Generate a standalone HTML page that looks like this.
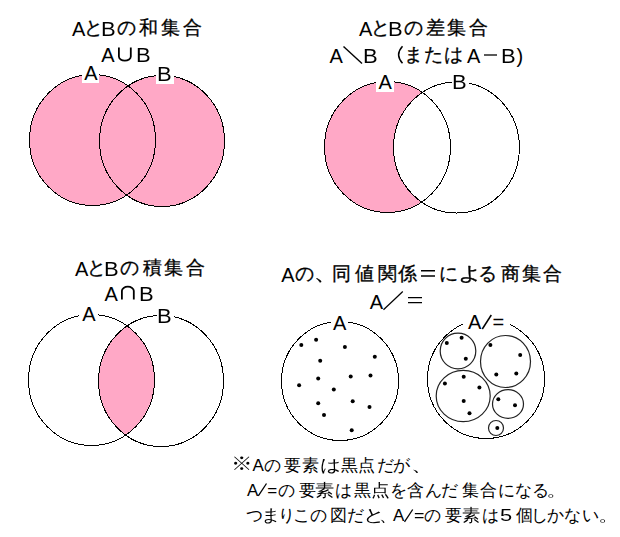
<!DOCTYPE html><html lang="ja"><head><meta charset="utf-8"><style>
html,body{margin:0;padding:0;background:#fff;width:620px;height:537px;overflow:hidden}
body{position:relative;font-family:"Liberation Sans",sans-serif;color:#000}
svg{position:absolute;left:0;top:0}
i{position:absolute;font-style:normal;line-height:1;white-space:nowrap;transform-origin:0 0}
.k{-webkit-text-stroke:0.3px #000}
</style></head><body>
<svg width="620" height="537" viewBox="0 0 620 537"><defs><mask id="mB2"><rect width="620" height="537" fill="#fff"/><ellipse cx="456.5" cy="147.5" rx="63" ry="65.5" fill="#000"/></mask><clipPath id="cA3"><ellipse cx="91.5" cy="380" rx="63" ry="65.5"/></clipPath></defs><ellipse cx="92.5" cy="140" rx="63" ry="65.5" fill="#ffa8c6"/><ellipse cx="162" cy="141" rx="62.5" ry="65.5" fill="#ffa8c6"/><g mask="url(#mB2)"><ellipse cx="387.5" cy="147" rx="63" ry="65.5" fill="#ffa8c6"/></g><g clip-path="url(#cA3)"><ellipse cx="161" cy="381" rx="62.5" ry="65.5" fill="#ffa8c6"/></g><g fill="none" stroke="#000" stroke-width="1" shape-rendering="crispEdges"><ellipse cx="92.5" cy="140" rx="63" ry="65.5"/><ellipse cx="162" cy="141" rx="62.5" ry="65.5"/><ellipse cx="387.5" cy="147" rx="63" ry="65.5"/><ellipse cx="456.5" cy="147.5" rx="63" ry="65.5"/><ellipse cx="91.5" cy="380" rx="63" ry="65.5"/><ellipse cx="161" cy="381" rx="62.5" ry="65.5"/><ellipse cx="340" cy="381" rx="58.5" ry="59.5"/><ellipse cx="486" cy="379" rx="58.5" ry="59.5"/></g><g fill="none" stroke="#222" stroke-width="1.2" shape-rendering="auto"><ellipse cx="458" cy="351" rx="17.8" ry="17.8"/><ellipse cx="505.5" cy="361.5" rx="25" ry="26"/><ellipse cx="463.2" cy="396" rx="27" ry="25.6"/><ellipse cx="508" cy="404" rx="15.5" ry="14.4"/><ellipse cx="496" cy="428" rx="7.5" ry="7.5"/></g><g fill="#000"><circle cx="301.3" cy="344.9" r="2"/><circle cx="316.1" cy="339.8" r="2"/><circle cx="344.9" cy="346.9" r="2"/><circle cx="374.8" cy="356.8" r="2"/><circle cx="320.2" cy="360.7" r="2"/><circle cx="318.2" cy="378.4" r="2"/><circle cx="350.7" cy="376.6" r="2"/><circle cx="370.5" cy="375.6" r="2"/><circle cx="299.1" cy="385.2" r="2"/><circle cx="333.8" cy="389.5" r="2"/><circle cx="318.2" cy="403.3" r="2"/><circle cx="352.7" cy="401.3" r="2"/><circle cx="369.5" cy="407" r="2"/><circle cx="324" cy="415.1" r="2"/><circle cx="351.7" cy="430.2" r="2"/><circle cx="446.8" cy="343.1" r="2"/><circle cx="461.6" cy="337.8" r="2"/><circle cx="465.8" cy="358.8" r="2"/><circle cx="490.4" cy="344.9" r="2"/><circle cx="520.2" cy="354.9" r="2"/><circle cx="496.3" cy="374.6" r="2"/><circle cx="516.3" cy="373.6" r="2"/><circle cx="463.7" cy="376.7" r="2"/><circle cx="444.9" cy="383.5" r="2"/><circle cx="479.4" cy="387.4" r="2"/><circle cx="463.7" cy="401.1" r="2"/><circle cx="469.5" cy="413.2" r="2"/><circle cx="498.3" cy="399.3" r="2"/><circle cx="515" cy="405.3" r="2"/><circle cx="497.3" cy="428" r="2"/></g><g fill="#fff"><rect x="82" y="62" width="17" height="21"/><rect x="156" y="62" width="18" height="22"/><rect x="376" y="70" width="18" height="22"/><rect x="452" y="70" width="17" height="22"/><rect x="79" y="302" width="19" height="22"/><rect x="157" y="304" width="17" height="22"/><rect x="331" y="311" width="17" height="22"/><rect x="463" y="309" width="47" height="24"/></g><g fill="none" stroke="#000" stroke-linecap="butt"><path d="M118.9 47.5V56.5A5.95 4.1 0 0 0 130.8 56.5V47.5" stroke-width="1.8"/><path d="M121.9 299.5V290.8A5.95 4.1 0 0 1 133.8 290.8V299.5" stroke-width="1.8"/><path d="M343.5 46.5L362 63.5" stroke-width="1.4"/><path d="M383.5 309.8L402.8 291.5" stroke-width="1.2"/><path d="M484 55H497" stroke-width="1.3"/><path d="M408 297.6H422M408 302.6H422" stroke-width="1.2"/><path d="M421 270.8H435M421 276H435" stroke-width="1.4"/><path d="M482.3 329L491.3 315" stroke-width="1.5"/><path d="M258.3 495.8L266.5 483.5" stroke-width="1.3"/><path d="M404.5 521.8L412.7 509.5" stroke-width="1.3"/><path d="M402.5 46.3Q394.8 54.8 402.5 63.3" stroke-width="1.5"/></g></svg>
<i style="left:72px;top:19px;font-size:20px">A</i>
<i class="k" style="left:83.6px;top:18px;font-size:19px">と</i>
<i style="left:100.8px;top:19px;font-size:20px;transform:scaleX(1.1)">B</i>
<i class="k" style="left:117.2px;top:18px;font-size:19px">の</i>
<i class="k" style="left:138.5px;top:18px;font-size:19px">和</i>
<i class="k" style="left:160.5px;top:18px;font-size:19px">集</i>
<i class="k" style="left:182.5px;top:18px;font-size:19px">合</i>
<i style="left:101.3px;top:45px;font-size:20px">A</i>
<i style="left:135.8px;top:45px;font-size:20px;transform:scaleX(1.1)">B</i>
<i style="left:84.2px;top:63px;font-size:20px">A</i>
<i style="left:156.8px;top:64px;font-size:20px;transform:scaleX(1.1)">B</i>
<i style="left:359px;top:19px;font-size:20px">A</i>
<i class="k" style="left:370.6px;top:18px;font-size:19px">と</i>
<i style="left:387.8px;top:19px;font-size:20px;transform:scaleX(1.1)">B</i>
<i class="k" style="left:404.2px;top:18px;font-size:19px">の</i>
<i class="k" style="left:426.3px;top:18px;font-size:19px">差</i>
<i class="k" style="left:447.2px;top:18px;font-size:19px">集</i>
<i class="k" style="left:469.2px;top:18px;font-size:19px">合</i>
<i style="left:329.5px;top:46px;font-size:20px">A</i>
<i style="left:362.8px;top:46px;font-size:20px;transform:scaleX(1.1)">B</i>
<i class="k" style="left:403.7px;top:45px;font-size:19px">ま</i>
<i class="k" style="left:424.2px;top:45px;font-size:19px">た</i>
<i class="k" style="left:443.5px;top:45px;font-size:19px">は</i>
<i style="left:467px;top:46px;font-size:20px">A</i>
<i style="left:500.8px;top:46px;font-size:20px;transform:scaleX(1.1)">B</i>
<i style="left:516.6px;top:46px;font-size:20px">)</i>
<i style="left:378.5px;top:72px;font-size:20px">A</i>
<i style="left:452.2px;top:72px;font-size:20px;transform:scaleX(1.1)">B</i>
<i style="left:75px;top:259px;font-size:20px">A</i>
<i class="k" style="left:86.6px;top:258px;font-size:19px">と</i>
<i style="left:103.8px;top:259px;font-size:20px;transform:scaleX(1.1)">B</i>
<i class="k" style="left:120.2px;top:258px;font-size:19px">の</i>
<i class="k" style="left:142.5px;top:258px;font-size:19px">積</i>
<i class="k" style="left:163.5px;top:258px;font-size:19px">集</i>
<i class="k" style="left:185.5px;top:258px;font-size:19px">合</i>
<i style="left:104.4px;top:284px;font-size:20px">A</i>
<i style="left:138.5px;top:284px;font-size:20px;transform:scaleX(1.1)">B</i>
<i style="left:82.3px;top:304px;font-size:20px">A</i>
<i style="left:156.8px;top:306px;font-size:20px;transform:scaleX(1.1)">B</i>
<i style="left:281.2px;top:265px;font-size:20px">A</i>
<i class="k" style="left:295px;top:264px;font-size:19px">の</i>
<i class="k" style="left:313.6px;top:264px;font-size:19px;transform:scaleX(1.267)">、</i>
<i class="k" style="left:332.1px;top:264px;font-size:19px">同</i>
<i class="k" style="left:354.6px;top:264px;font-size:19px">値</i>
<i class="k" style="left:378px;top:264px;font-size:19px">関</i>
<i class="k" style="left:398.4px;top:264px;font-size:19px">係</i>
<i class="k" style="left:439.3px;top:264px;font-size:19px">に</i>
<i class="k" style="left:457.5px;top:264px;font-size:19px;transform:scaleX(1.238)">よ</i>
<i class="k" style="left:478.3px;top:264px;font-size:19px">る</i>
<i class="k" style="left:501px;top:264px;font-size:19px">商</i>
<i class="k" style="left:521.9px;top:264px;font-size:19px">集</i>
<i class="k" style="left:543.2px;top:264px;font-size:19px">合</i>
<i style="left:369.8px;top:292px;font-size:20px">A</i>
<i style="left:333px;top:313px;font-size:20px">A</i>
<i style="left:468px;top:312px;font-size:20px">A</i>
<i style="left:492.5px;top:312px;font-size:20px">=</i>
<i style="left:230.6px;top:454px;font-size:19px;transform:scaleX(1.131)">※</i>
<i style="left:252.6px;top:457px;font-size:17px">A</i>
<i style="left:263.7px;top:457px;font-size:17px">の</i>
<i style="left:284px;top:457px;font-size:17px">要</i>
<i style="left:301.6px;top:457px;font-size:17px">素</i>
<i style="left:319.8px;top:457px;font-size:17px;transform:scaleX(1.214)">は</i>
<i style="left:341px;top:457px;font-size:17px">黒</i>
<i style="left:357.7px;top:457px;font-size:17px">点</i>
<i style="left:377.2px;top:457px;font-size:17px">だ</i>
<i style="left:393.4px;top:457px;font-size:17px">が</i>
<i style="left:411.0px;top:457px;font-size:17px;transform:scaleX(1.35)">、</i>
<i style="left:246.9px;top:482px;font-size:17px">A</i>
<i style="left:267.2px;top:482px;font-size:17px">=</i>
<i style="left:277.5px;top:482px;font-size:17px">の</i>
<i style="left:298.5px;top:482px;font-size:17px">要</i>
<i style="left:315.4px;top:482px;font-size:17px;transform:scaleX(1.133)">素</i>
<i style="left:335.1px;top:482px;font-size:17px">は</i>
<i style="left:354.2px;top:482px;font-size:17px">黒</i>
<i style="left:370.7px;top:482px;font-size:17px;transform:scaleX(1.1)">点</i>
<i style="left:390.3px;top:482px;font-size:17px">を</i>
<i style="left:407px;top:482px;font-size:17px">含</i>
<i style="left:425px;top:482px;font-size:17px">ん</i>
<i style="left:441.2px;top:482px;font-size:17px">だ</i>
<i style="left:461.8px;top:482px;font-size:17px">集</i>
<i style="left:479.8px;top:482px;font-size:17px">合</i>
<i style="left:498.2px;top:482px;font-size:17px">に</i>
<i style="left:514.6px;top:482px;font-size:17px">な</i>
<i style="left:531.7px;top:482px;font-size:17px">る</i>
<i style="left:545.8px;top:482px;font-size:17px;transform:scaleX(1.35)">。</i>
<i style="left:245.9px;top:507px;font-size:17px">つ</i>
<i style="left:260.9px;top:507px;font-size:17px;transform:scaleX(1.15)">ま</i>
<i style="left:277.7px;top:507px;font-size:17px">り</i>
<i style="left:293.3px;top:507px;font-size:17px">こ</i>
<i style="left:309.7px;top:507px;font-size:17px">の</i>
<i style="left:330px;top:507px;font-size:17px">図</i>
<i style="left:346.7px;top:507px;font-size:17px">だ</i>
<i style="left:363.3px;top:507px;font-size:17px;transform:scaleX(1.28)">と</i>
<i style="left:378.5px;top:507px;font-size:17px;transform:scaleX(1.067)">、</i>
<i style="left:392.9px;top:507px;font-size:17px">A</i>
<i style="left:413.9px;top:507px;font-size:17px;transform:scaleX(1.05)">=</i>
<i style="left:424.4px;top:507px;font-size:17px">の</i>
<i style="left:444.7px;top:507px;font-size:17px">要</i>
<i style="left:462.4px;top:507px;font-size:17px;transform:scaleX(1.073)">素</i>
<i style="left:481.9px;top:507px;font-size:17px">は</i>
<i style="left:499.7px;top:507px;font-size:17px;transform:scaleX(1.288)">5</i>
<i style="left:515.8px;top:507px;font-size:17px">個</i>
<i style="left:530.5px;top:507px;font-size:17px">し</i>
<i style="left:546.7px;top:507px;font-size:17px">か</i>
<i style="left:563.5px;top:507px;font-size:17px">な</i>
<i style="left:581.6px;top:507px;font-size:17px">い</i>
<i style="left:598.0px;top:507px;font-size:17px;transform:scaleX(1.3)">。</i>
</body></html>
